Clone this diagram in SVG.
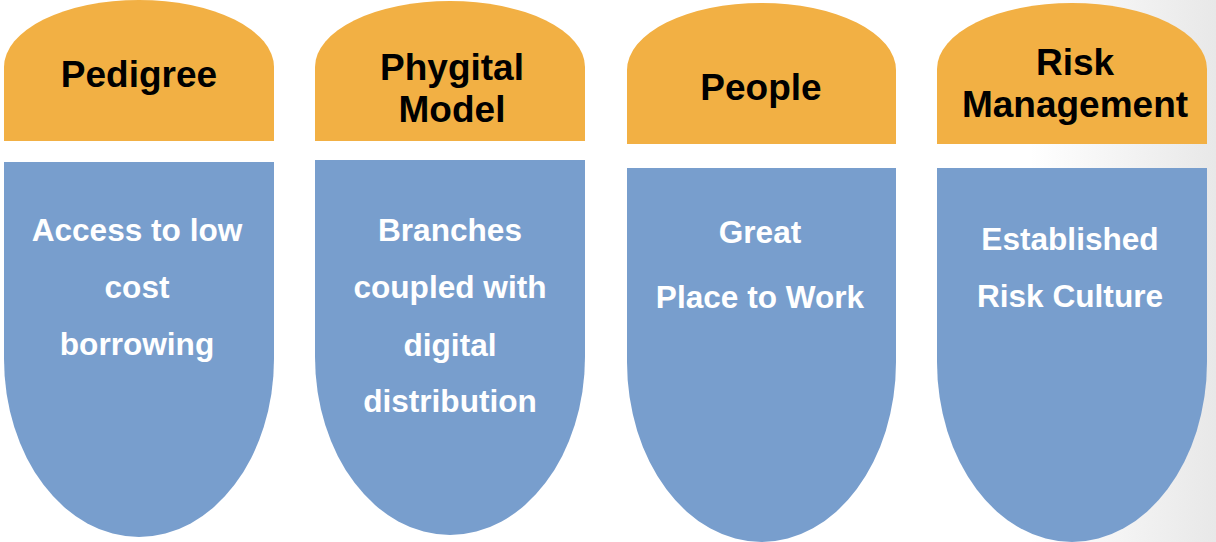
<svg xmlns="http://www.w3.org/2000/svg" width="1216" height="542" viewBox="0 0 1216 542">
<defs>
<linearGradient id="bg" gradientUnits="userSpaceOnUse" x1="1030" y1="0" x2="1216" y2="0">
<stop offset="0" stop-color="#ffffff"/>
<stop offset="1" stop-color="#e8e8e8"/>
</linearGradient>
<style>
.hd{fill:#F2B044}
.bd{fill:#789ECD}
.ht{font-family:"Liberation Sans",Arial,sans-serif;font-weight:bold;font-size:37px;fill:#000;text-anchor:middle}
.bt{font-family:"Liberation Sans",Arial,sans-serif;font-weight:bold;font-size:31.6px;fill:#fff;text-anchor:middle}
</style>
</defs>
<rect x="0" y="0" width="1216" height="542" fill="url(#bg)"/>
<g id="col1">
<path class="hd" d="M4,141 V67 A135,67 0 0 1 274,67 V141 Z"/>
<path class="bd" d="M4,162 H274 V359 A135,178 0 0 1 4,359 Z"/>
<text class="ht" x="139" y="87">Pedigree</text>
<text class="bt" x="137" y="241">Access to low</text>
<text class="bt" x="137" y="298">cost</text>
<text class="bt" x="137" y="355">borrowing</text>
</g>
<g id="col2">
<path class="hd" d="M315,141 V67 A135,66 0 0 1 585,67 V141 Z"/>
<path class="bd" d="M315,160 H585 V357 A135,178 0 0 1 315,357 Z"/>
<text class="ht" x="452" y="80">Phygital</text>
<text class="ht" x="452" y="122">Model</text>
<text class="bt" x="450" y="241">Branches</text>
<text class="bt" x="450" y="298">coupled with</text>
<text class="bt" x="450" y="356">digital</text>
<text class="bt" x="450" y="412">distribution</text>
</g>
<g id="col3">
<path class="hd" d="M627,144 V70 A134.5,67 0 0 1 896,70 V144 Z"/>
<path class="bd" d="M627,168 H896 V362 A134.5,180 0 0 1 627,362 Z"/>
<text class="ht" x="761" y="100">People</text>
<text class="bt" x="760" y="243">Great</text>
<text class="bt" x="760" y="308">Place to Work</text>
</g>
<g id="col4">
<path class="hd" d="M937,144 V69 A135,66 0 0 1 1207,69 V144 Z"/>
<path class="bd" d="M937,168 H1207 V362 A135,180 0 0 1 937,362 Z"/>
<text class="ht" x="1075" y="75">Risk</text>
<text class="ht" x="1075" y="117">Management</text>
<text class="bt" x="1070" y="250">Established</text>
<text class="bt" x="1070" y="307">Risk Culture</text>
</g>
<g id="connectors"/>
</svg>
